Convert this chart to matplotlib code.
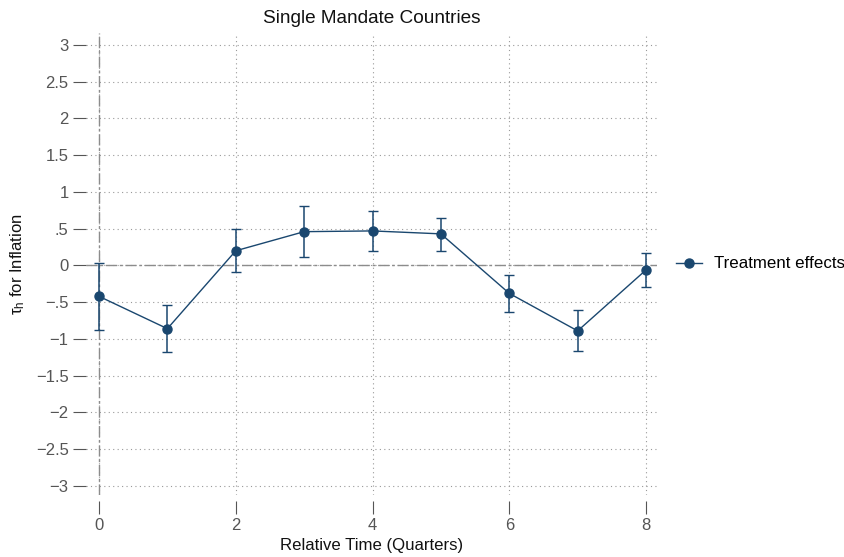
import numpy as np
import matplotlib
matplotlib.use("Agg")
from matplotlib import pyplot as plt

plt.rcParams['font.family'] = ['Liberation Sans', 'DejaVu Sans']
plt.rcParams['mathtext.fontset'] = 'custom'
plt.rcParams['mathtext.rm'] = 'Liberation Sans'
plt.rcParams['mathtext.it'] = 'Liberation Sans:italic'

# data
quarters = [0, 1, 2, 3, 4, 5, 6, 7, 8]
effects = [-0.42, -0.86, 0.20, 0.46, 0.47, 0.43, -0.38, -0.89, -0.06]
ci_low = [-0.88, -1.18, -0.09, 0.11, 0.20, 0.20, -0.63, -1.17, -0.29]
ci_high = [0.04, -0.54, 0.49, 0.81, 0.74, 0.65, -0.125, -0.61, 0.17]
yticks = [3, 2.5, 2, 1.5, 1, 0.5, 0, -0.5, -1, -1.5, -2, -2.5, -3]
ytick_labels = ['3', '2.5', '2', '1.5', '1', '.5', '0', '\u2212.5', '\u22121',
                '\u22121.5', '\u22122', '\u22122.5', '\u22123']
xticks = [0, 2, 4, 6, 8]

navy = '#1a476f'
gray = '#555555'

fig = plt.figure(figsize=(8.44, 5.57), dpi=100)
ax = fig.add_axes([86/844, 1-495/557, (657-86)/844, (495-33)/557])

eff = np.array(effects)
lo = eff - np.array(ci_low)
hi = np.array(ci_high) - eff
ax.errorbar(quarters, effects, yerr=[lo, hi], fmt='none', ecolor=navy,
            elinewidth=1.1, capsize=3.5, capthick=1.0, zorder=4)
ax.plot(quarters, effects, '-o', color=navy, lw=1.0, ms=6.5,
        label='Treatment effects', zorder=5)

ax.axhline(0, color='#8c8c8c', lw=1.0, ls=(0, (8, 2, 2, 2)), zorder=2)
ax.axvline(0, color='#8c8c8c', lw=1.0, ls=(0, (8, 2, 2, 2)), zorder=2)

ax.set_xlim(-0.19, 8.16)
ax.set_ylim(-3.123, 3.163)
ax.set_xticks(xticks)
ax.set_yticks(yticks)
ax.set_yticklabels(ytick_labels)
ax.grid(True, color='#999999', ls=(0, (1, 3)), lw=0.8, zorder=1)

for s in ax.spines.values():
    s.set_visible(False)
ax.spines['bottom'].set_position(('outward', 4))
ax.tick_params(axis='both', colors='#555555', labelcolor=gray, labelsize=12,
               length=9.5, width=0.8)
ax.tick_params(axis='x', pad=3)
ax.tick_params(axis='y', pad=3)

ax.set_title('Single Mandate Countries', fontsize=13.7, pad=7, color='#111111')
ax.set_xlabel('Relative Time (Quarters)', fontsize=12.1, labelpad=4, color='#111111')
ax.set_ylabel(r'$\mathrm{\tau_h}$ for Inflation', fontsize=12, labelpad=6, color='#111111')

ax.legend(loc='center left', bbox_to_anchor=(1.007, 0.5), frameon=False,
          fontsize=12.2, handlelength=1.5, handletextpad=0.7)

fig.savefig('out.png', dpi=100)
